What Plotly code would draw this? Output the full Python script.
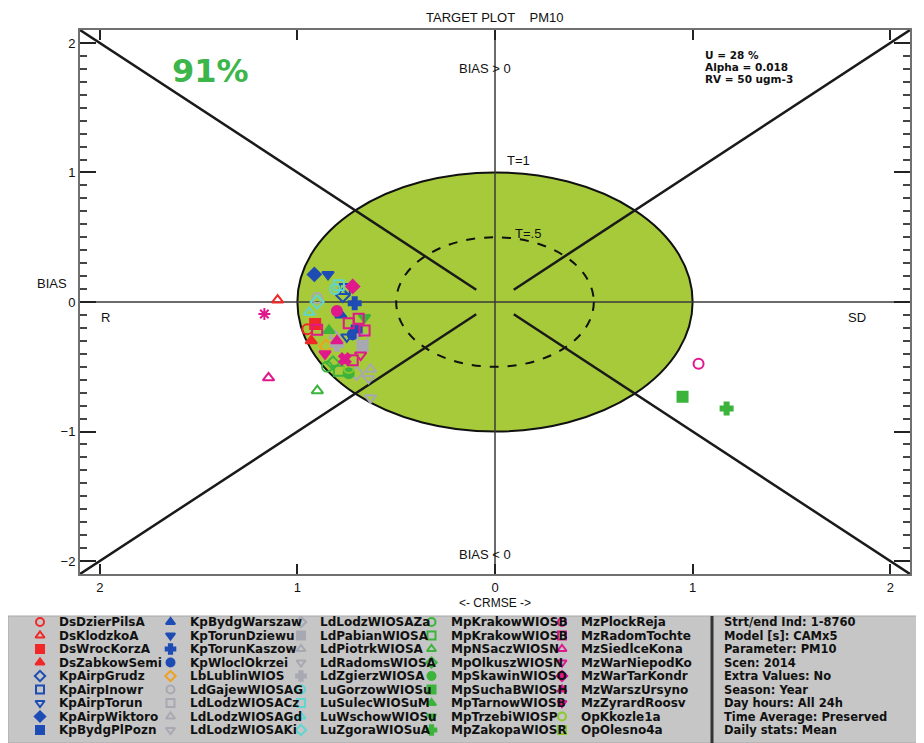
import plotly.graph_objects as go

# ---------------- data ----------------
stations = [
    "DsDzierPilsA", "DsKlodzkoA", "DsWrocKorzA", "DsZabkowSemi", "KpAirpGrudz",
    "KpAirpInowr", "KpAirpTorun", "KpAirpWiktoro", "KpBydgPlPozn",
    "KpBydgWarszaw", "KpTorunDziewu", "KpTorunKaszow", "KpWloclOkrzei", "LbLublinWIOS",
    "LdGajewWIOSAG", "LdLodzWIOSACz", "LdLodzWIOSAGd", "LdLodzWIOSAKi",
    "LdLodzWIOSAZa", "LdPabianWIOSA", "LdPiotrkWIOSA", "LdRadomsWIOSA", "LdZgierzWIOSA",
    "LuGorzowWIOSu", "LuSulecWIOSuM", "LuWschowWIOSu", "LuZgoraWIOSuA",
    "MpKrakowWIOSB", "MpKrakowWIOSB", "MpNSaczWIOSN", "MpOlkuszWIOSN", "MpSkawinWIOSO",
    "MpSuchaBWIOSH", "MpTarnowWIOSB", "MpTrzebiWIOSP", "MpZakopaWIOSR",
    "MzPlockReja", "MzRadomTochte", "MzSiedlceKona", "MzWarNiepodKo", "MzWarTarKondr",
    "MzWarszUrsyno", "MzZyrardRoosv", "OpKkozle1a", "OpOlesno4a",
]
# signed CRMSE axis (negative = R side, positive = SD side) and normalised BIAS
crmse = [
    -0.95, -1.10, -0.91, -0.93, -0.77, -0.76, -0.75, -0.914, -0.70,
    -0.78, -0.845, -0.71, -0.72, -0.855, -0.90, -0.67, -0.81, -0.63,
    -0.70, -0.67, -0.63, -0.64, -0.80, -0.81, -0.79, -0.94, -0.90,
    -0.85, -0.79, -0.899, -0.82, -0.74, 0.949, -0.84, -0.66, 1.172,
    1.03, -0.69, -1.146, -0.68, -0.72, -0.80, -0.86, -0.74, -0.72,
]
bias = [
    -0.21, 0.015, -0.17, -0.30, 0.05, 0.10, -0.27, 0.213, -0.22,
    -0.10, 0.213, -0.01, -0.25, -0.34, 0.03, -0.29, -0.26, -0.74,
    -0.55, -0.34, -0.52, -0.59, -0.33, 0.10, 0.13, -0.08, 0.00,
    -0.50, -0.53, -0.685, -0.47, -0.55, -0.731, -0.22, -0.12, -0.823,
    -0.477, -0.13, -0.585, -0.41, 0.12, -0.30, -0.40, -0.51, -0.45,
]
colors = (["#f02828"] * 4 + ["#1e4cb4"] * 9 + ["#f0a020"] + ["#a8a8b2"] * 9
          + ["#5fd6cf"] * 4 + ["#3cb43c"] * 9 + ["#e0188c"] * 7 + ["#8cc828"] * 2)
symbols = [
    "circle-open", "triangle-up-open", "square", "triangle-up", "diamond-open",
    "square-open", "triangle-down-open", "diamond", "square",
    "triangle-up", "triangle-down", "cross", "circle", "diamond-open",
    "circle-open", "square-open", "triangle-up-open", "triangle-down-open",
    "diamond-open", "square", "triangle-up-open", "triangle-down-open", "cross",
    "circle-open", "square-open", "triangle-up-open", "diamond-open",
    "circle-open", "square-open", "triangle-up-open", "diamond-open", "circle",
    "square", "triangle-up", "triangle-down", "cross",
    "circle-open", "square-open", "triangle-up-open", "triangle-down-open", "diamond",
    "triangle-up", "triangle-down", "circle-open", "square-open",
]

# further stations plotted but not listed in the visible legend page
extra_crmse = [-1.167, -0.80, -0.66, -0.90, -0.72, -0.76, -0.74]
extra_bias = [-0.092, -0.07, -0.22, -0.215, -0.45, -0.44, -0.165]
extra_symbols = ["asterisk-open", "circle", "square-open", "square-open",
                 "square-open", "x", "square-open"]
extra_color = "#e0188c"

title_text = "TARGET PLOT&nbsp;&nbsp;&nbsp;&nbsp;PM10"
score_text = "91%"
stats_lines = ["U = 28 %", "Alpha = 0.018", "RV = 50 ugm-3"]
info_lines = ["Strt/end Ind: 1-8760", "Model [s]: CAMx5", "Parameter: PM10",
              "Scen: 2014", "Extra Values: No", "Season: Year",
              "Day hours: All 24h", "Time Average: Preserved", "Daily stats: Mean"]
x_tickvals = [-2, -1, 0, 1, 2]
x_ticktext = ["2", "1", "0", "1", "2"]

# ---------------- figure ----------------
# the page body has an 8px margin, so the figure canvas starts at (8, 8)
W, H = 916, 735
OFF = 8
FONT = "Liberation Sans, Arial, sans-serif"
LEGFONT = "DejaVu Sans, Verdana, sans-serif"

def px_x(p):
    return p - OFF

def px_y(p):
    return p - OFF

fig = go.Figure()

for i, s in enumerate(stations):
    fig.add_trace(go.Scatter(
        x=[crmse[i]], y=[bias[i]], mode="markers", name=s, showlegend=False,
        marker=dict(symbol=symbols[i], color=colors[i], size=10,
                    line=dict(color=colors[i], width=2)),
        xaxis="x", yaxis="y"))

for i in range(len(extra_crmse)):
    fig.add_trace(go.Scatter(
        x=[extra_crmse[i]], y=[extra_bias[i]], mode="markers", showlegend=False,
        marker=dict(symbol=extra_symbols[i], color=extra_color, size=10,
                    line=dict(color=extra_color, width=2)),
        xaxis="x", yaxis="y"))

# legend panel markers (pixel-based axes x2/y2, in page pixels)
LEG_TOP = 616
leg_mx, leg_my, leg_tx = [], [], []
for i in range(len(stations)):
    col, row = divmod(i, 9)
    leg_mx.append(40 + 130.5 * col)
    leg_my.append(622 + 13.5 * row)
    leg_tx.append(57 + 130.5 * col)

for i in range(len(stations)):
    fig.add_trace(go.Scatter(
        x=[px_x(leg_mx[i])], y=[px_y(leg_my[i])], mode="markers", showlegend=False,
        marker=dict(symbol=symbols[i], color=colors[i], size=8,
                    line=dict(color=colors[i], width=2)),
        xaxis="x2", yaxis="y2", hoverinfo="skip"))

shapes = []
# legend background
shapes.append(dict(type="rect", xref="paper", yref="paper",
                   x0=0, x1=1, y0=0, y1=(H - px_y(LEG_TOP)) / H,
                   fillcolor="#c6c6c6", line=dict(color="#a8a8a8", width=1), layer="below"))
shapes.append(dict(type="line", xref="x2", yref="y2", x0=px_x(712), x1=px_x(712),
                   y0=px_y(LEG_TOP), y1=H, line=dict(color="#333333", width=3)))
# T=1 green ellipse
shapes.append(dict(type="circle", xref="x", yref="y", x0=-1, x1=1, y0=-1, y1=1,
                   fillcolor="#a6ca3a", line=dict(color="#111111", width=2), layer="below"))
# axes through origin
shapes.append(dict(type="line", xref="x", yref="y", x0=-2.1, x1=2.1, y0=0, y1=0,
                   line=dict(color="#3a3a3a", width=1.5), layer="below"))
shapes.append(dict(type="line", xref="x", yref="y", x0=0, x1=0, y0=-2.1, y1=2.1,
                   line=dict(color="#3a3a3a", width=1.5), layer="below"))
# T=0.5 dashed circle
shapes.append(dict(type="circle", xref="x", yref="y", x0=-0.5, x1=0.5, y0=-0.5, y1=0.5,
                   line=dict(color="#111111", width=2, dash="dash"), layer="below"))
# diagonals
for sx in (-1, 1):
    for sy in (-1, 1):
        shapes.append(dict(type="line", xref="x", yref="y",
                           x0=sx * 0.095, y0=sy * 0.095, x1=sx * 2.1, y1=sy * 2.1,
                           line=dict(color="#1a1a1a", width=2.5), layer="below"))

ann = []
def txt(x, y, t, xref="x", yref="y", size=12, xanchor="center", color="#111111",
        family=FONT, weight="normal", yanchor="middle"):
    ann.append(dict(x=x, y=y, xref=xref, yref=yref, text=t, showarrow=False,
                    xanchor=xanchor, yanchor=yanchor,
                    font=dict(size=size, color=color, family=family, weight=weight)))

txt(0.5 * (px_x(80) + px_x(910)) / W, 1 - px_y(17) / H, title_text,
    xref="paper", yref="paper", size=13)
txt(-1.44, 1.78, score_text, size=32, color="#3cb54a",
    family="DejaVu Sans, Verdana, sans-serif", weight="bold")
for k, line in enumerate(stats_lines):
    txt(1.055, 1.91 - 0.093 * k, line, xanchor="left", size=10.5, weight="bold",
        family=LEGFONT)
txt(-0.05, 1.80, "BIAS &gt; 0", size=13)
txt(-0.05, -1.946, "BIAS &lt; 0", size=13)
txt(0.05, 1.09, "T=1", xanchor="left", size=13)
txt(0.09, 0.53, "T=.5", xanchor="left", size=13)
txt(-1.97, -0.12, "R", size=13)
txt(1.83, -0.12, "SD", size=13)
txt(px_x(52) / W, 0.146, "BIAS", xref="paper", yref="y", size=13)
txt(0.0, 1 - px_y(603) / H, "&lt;- CRMSE -&gt;", xref="x", yref="paper", size=12)

for i, s in enumerate(stations):
    txt(px_x(leg_tx[i]), px_y(leg_my[i]), s, xref="x2", yref="y2", xanchor="left",
        size=12, weight="bold", family=LEGFONT)
for k, line in enumerate(info_lines):
    txt(px_x(722), px_y(622 + 13.5 * k), line, xref="x2", yref="y2", xanchor="left",
        size=11.5, weight="bold", family=LEGFONT)

fig.update_layout(
    width=W, height=H, margin=dict(l=0, r=0, t=0, b=0),
    paper_bgcolor="white", plot_bgcolor="rgba(0,0,0,0)",
    showlegend=False, shapes=shapes, annotations=ann,
    xaxis=dict(domain=[px_x(80) / W, px_x(910) / W], range=[-2.1, 2.1],
               tickmode="array", tickvals=x_tickvals, ticktext=x_ticktext,
               ticks="inside", ticklen=10, tickwidth=1.5,
               tickcolor="#222", showline=True, linecolor="#707070", linewidth=2,
               mirror="ticks", showgrid=False, zeroline=False,
               tickfont=dict(family=FONT, size=13, color="#111")),
    yaxis=dict(domain=[1 - px_y(574) / H, 1 - px_y(30) / H], range=[-2.1, 2.1],
               tickmode="linear", tick0=0, dtick=1, ticks="inside", ticklen=16,
               tickwidth=1.5, tickcolor="#222", showline=True, linecolor="#707070",
               linewidth=2, mirror="ticks", showgrid=False, zeroline=False,
               minor=dict(ticks="inside", dtick=0.1, ticklen=7, tickcolor="#444",
                          showgrid=False),
               tickfont=dict(family=FONT, size=13, color="#111")),
    xaxis2=dict(domain=[0, 1], range=[0, W], visible=False, anchor="y2",
                fixedrange=True),
    yaxis2=dict(domain=[0, (H - px_y(LEG_TOP)) / H], range=[H, px_y(LEG_TOP)],
                visible=False, anchor="x2", fixedrange=True),
)

fig.write_html("out.html")
